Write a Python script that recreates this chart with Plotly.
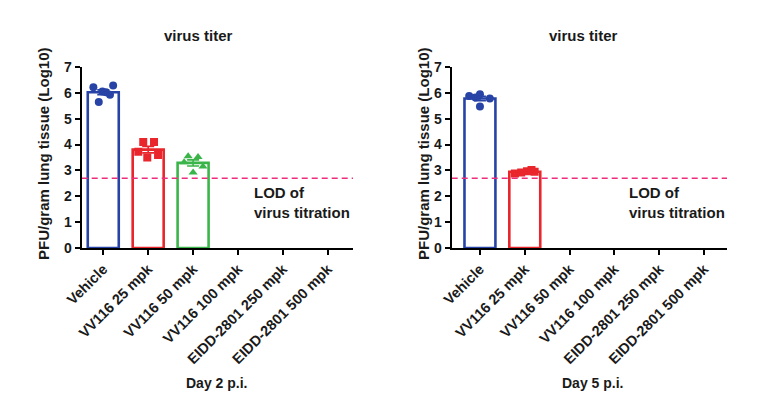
import numpy as np
import plotly.graph_objects as go

categories = ["Vehicle", "VV116 25 mpk", "VV116 50 mpk", "VV116 100 mpk",
              "EIDD-2801 250 mpk", "EIDD-2801 500 mpk"]

# Day 2 p.i. individual values (log10 PFU/gram)
day2_vehicle = [6.22, 6.05, 5.93, 6.28, 5.65, 6.02]
day2_vv25 = [4.10, 4.10, 3.72, 3.50, 3.60]
day2_vv50 = [3.55, 3.52, 3.32, 3.15, 2.92]

# Day 5 p.i. individual values
day5_vehicle = [5.88, 5.95, 5.78, 5.47, 5.82]
day5_vv25 = [2.88, 2.97, 3.02, 2.92, 2.95]

lod = 2.7

# horizontal scatter offsets (style only)
jit_d2_veh = [-0.22, -0.02, 0.15, 0.22, -0.1, 0.06]
jit_d2_v25 = [-0.11, 0.13, -0.22, -0.02, 0.22]
jit_d2_v50 = [-0.11, 0.11, -0.2, 0.22, 0.0]
jit_d5_veh = [-0.24, 0.0, 0.22, 0.0, -0.1]
jit_d5_v25 = [-0.22, 0.05, 0.15, -0.08, 0.22]

W, H = 775, 404
OFF = 8  # page body margin
FONT = "Liberation Sans, Arial, sans-serif"
BLUE = "#2743A6"
RED = "#E8262B"
GREEN = "#3BB54A"
PINK = "#EE2C7C"
TXT = "#1a1a1a"

def px_x(p):
    return (p - OFF) / W

def px_y(p):
    return 1 - (p - OFF) / H

fig = go.Figure()

panels = [
    dict(xa="x", ya="y", groups=[(0, day2_vehicle, jit_d2_veh, BLUE, "circle"),
                                 (1, day2_vv25, jit_d2_v25, RED, "square"),
                                 (2, day2_vv50, jit_d2_v50, GREEN, "triangle-up")]),
    dict(xa="x2", ya="y2", groups=[(0, day5_vehicle, jit_d5_veh, BLUE, "circle"),
                                   (1, day5_vv25, jit_d5_v25, RED, "square")]),
]

for p in panels:
    for idx, vals, jit, col, sym in p["groups"]:
        v = np.array(vals)
        mean = v.mean()
        sem = v.std(ddof=1) / np.sqrt(len(v))
        fig.add_trace(go.Bar(
            x=[idx], y=[mean], xaxis=p["xa"], yaxis=p["ya"],
            width=0.69, marker=dict(color="rgba(0,0,0,0)",
                                    line=dict(color=col, width=2.6)),
            error_y=dict(type="data", array=[sem], color=col,
                         thickness=1.6, width=6, visible=True),
            showlegend=False, hoverinfo="skip"))
        xs = [idx + j for j in jit]
        fig.add_trace(go.Scatter(
            x=xs, y=vals, xaxis=p["xa"], yaxis=p["ya"], mode="markers",
            marker=dict(color=col, symbol=sym, size=8, line=dict(width=0)),
            showlegend=False, hoverinfo="skip"))

# LOD lines
for xa, ya, xr in [("x", "y", [-0.48, 5.56]), ("x2", "y2", [-0.63, 5.51])]:
    fig.add_trace(go.Scatter(
        x=xr, y=[lod, lod], xaxis=xa, yaxis=ya, mode="lines",
        line=dict(color=PINK, width=1.6, dash="6px,4px"),
        showlegend=False, hoverinfo="skip", cliponaxis=False))

axis_common = dict(
    showline=True, linecolor="black", linewidth=2, showgrid=False,
    zeroline=False, ticks="outside", ticklen=5, tickwidth=1.6,
    tickcolor="black", mirror=False, automargin=False,
)

xcommon = dict(axis_common, tickmode="array", tickvals=list(range(len(categories))),
               ticktext=categories, tickangle=-45,
               tickfont=dict(family=FONT, size=14.5, color=TXT, weight="bold"))
ycommon = dict(axis_common, range=[0, 7], tickmode="array",
               tickvals=list(range(8)),
               tickfont=dict(family=FONT, size=14, color=TXT, weight="bold"))

fig.update_layout(
    width=W, height=H, margin=dict(l=0, r=0, t=0, b=0),
    paper_bgcolor="white", plot_bgcolor="white",
    barmode="overlay",
    xaxis=dict(xcommon, domain=[px_x(81.7), px_x(353)], range=[-0.48, 5.56], anchor="y"),
    yaxis=dict(ycommon, domain=[px_y(248), px_y(67)], anchor="x"),
    xaxis2=dict(xcommon, domain=[px_x(451.7), px_x(727)], range=[-0.63, 5.51], anchor="y2"),
    yaxis2=dict(ycommon, domain=[px_y(248), px_y(67)], anchor="x2"),
)

def ann(text, x, y, size=12, angle=0, align="center", xanchor="center"):
    fig.add_annotation(text=text, x=px_x(x), y=px_y(y), xref="paper", yref="paper",
                       showarrow=False, textangle=angle, align=align,
                       xanchor=xanchor, yanchor="middle",
                       font=dict(family=FONT, size=size, color=TXT, weight="bold"))

ann("virus titer", 198, 35, size=15)
ann("virus titer", 583, 35, size=15)
ann("PFU/gram lung tissue (Log10)", 43, 154, size=15, angle=-90)
ann("PFU/gram lung tissue (Log10)", 423, 154, size=15, angle=-90)
ann("Day 2 p.i.", 217, 383, size=14)
ann("Day 5 p.i.", 592, 383, size=14)
ann("LOD of<br>virus titration", 252, 202, size=15, align="left", xanchor="left")
ann("LOD of<br>virus titration", 627, 202, size=15, align="left", xanchor="left")

fig.write_html("out.html")
